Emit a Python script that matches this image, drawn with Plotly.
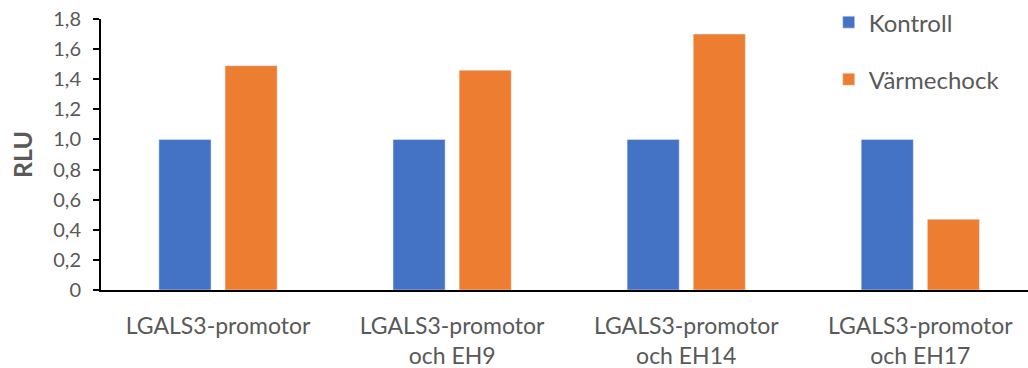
import plotly.graph_objects as go

categories = ["LGALS3-promotor", "LGALS3-promotor<br>och EH9",
              "LGALS3-promotor<br>och EH14", "LGALS3-promotor<br>och EH17"]
kontroll = [1.0, 1.0, 1.0, 1.0]
varmechock = [1.49, 1.46, 1.70, 0.47]
y_tickvals = [0, 0.2, 0.4, 0.6, 0.8, 1.0, 1.2, 1.4, 1.6, 1.8]
y_ticktext = ["0", "0,2", "0,4", "0,6", "0,8", "1,0", "1,2", "1,4", "1,6", "1,8"]

FONT = "Lato, 'Open Sans', sans-serif"
GREY = "#595959"

fig = go.Figure()
fig.add_trace(go.Bar(x=categories, y=kontroll, name="Kontroll",
                     marker_color="#4472C4", legendgroup="a"))
fig.add_trace(go.Bar(x=categories, y=varmechock, name="Värmechock",
                     marker_color="#ED7D31", legendgroup="b"))

fig.update_layout(
    width=1028, height=368,
    margin=dict(l=101, r=0, t=19, b=78),
    paper_bgcolor="white", plot_bgcolor="white",
    barmode="group", bargap=0.435, bargroupgap=0.212,
    font=dict(family=FONT, color=GREY, size=23),
    legend=dict(x=0.785, y=1.07, xanchor="left", yanchor="top",
                font=dict(size=24, color=GREY), tracegroupgap=23,
                itemwidth=30, bgcolor="rgba(0,0,0,0)"),
    xaxis=dict(range=[-0.5, 3.46], showline=True, linecolor="black",
               linewidth=2, ticks="outside", ticklen=14,
               tickcolor="rgba(0,0,0,0)",
               tickfont=dict(size=23, color=GREY), showgrid=False),
    yaxis=dict(range=[0, 1.8], tickvals=y_tickvals, ticktext=y_ticktext,
               showline=True, linecolor="black", linewidth=2,
               ticks="outside", ticklen=6, tickcolor="black", tickwidth=2,
               ticklabelstandoff=8,
               tickfont=dict(size=20, color=GREY), showgrid=False,
               title=dict(text="<b>RLU</b>", font=dict(size=25, color=GREY),
                          standoff=14)),
)

fig.write_html("out.html")
